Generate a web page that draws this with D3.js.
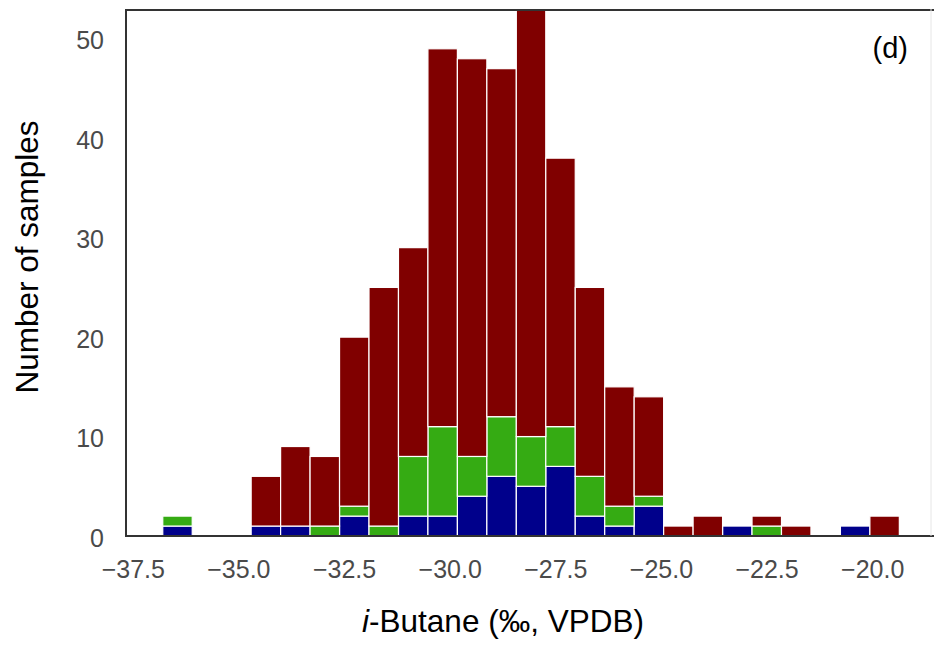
<!DOCTYPE html>
<html>
<head>
<meta charset="utf-8">
<script src="https://cdn.jsdelivr.net/npm/d3@7"></script>
<style>
  html, body { margin: 0; padding: 0; background: #fff; }
  svg { display: block; font-family: "Liberation Sans", Arial, sans-serif; }
</style>
</head>
<body>
<svg id="chart" width="934" height="646"></svg>
<script>
// Histogram bins of i-butane δ13C (‰, VPDB): 25 equal bins
const binStart = -36.79;
const binWidth = 0.6973;
const binCount = 25;

// Counts per bin for each stacked group (bottom to top)
const blueCounts  = [1, 0, 0, 1, 1, 0, 2, 0, 2, 2, 4, 6, 5, 7, 2, 1, 3, 0, 0, 1, 0, 0, 0, 1, 0];
const greenCounts = [1, 0, 0, 0, 0, 1, 1, 1, 6, 9, 4, 6, 5, 4, 4, 2, 1, 0, 0, 0, 1, 0, 0, 0, 0];
const redCounts   = [0, 0, 0, 5, 8, 7, 17, 24, 21, 38, 40, 35, 44, 27, 19, 12, 10, 1, 2, 0, 1, 1, 0, 0, 2];

const seriesKeys = ["blue", "green", "red"];
const seriesColors = { blue: "#00008b", green: "#35ab13", red: "#800000" };

const xTicks = [-37.5, -35.0, -32.5, -30.0, -27.5, -25.0, -22.5, -20.0];
const yTicks = [0, 10, 20, 30, 40, 50];

const xDomain = [-37.66, -18.49];
const yDomain = [0, 53];

const svg = d3.select("#chart");
const plot = { left: 126, right: 936, top: 9, bottom: 536 };

const x = d3.scaleLinear().domain(xDomain).range([plot.left, plot.right]);
const y = d3.scaleLinear().domain(yDomain).range([plot.bottom, plot.top]);

const rows = d3.range(binCount).map(i => ({
  x0: binStart + i * binWidth,
  x1: binStart + (i + 1) * binWidth,
  blue: blueCounts[i],
  green: greenCounts[i],
  red: redCounts[i]
}));

const stacked = d3.stack().keys(seriesKeys)(rows);

svg.append("defs").append("clipPath").attr("id", "plot-clip")
  .append("rect")
  .attr("x", plot.left).attr("y", plot.top)
  .attr("width", plot.right - plot.left).attr("height", plot.bottom - plot.top);

const bars = svg.append("g").attr("clip-path", "url(#plot-clip)");

stacked.forEach(layer => {
  bars.append("g")
    .attr("fill", seriesColors[layer.key])
    .selectAll("rect")
    .data(layer.filter(d => d[1] - d[0] > 0))
    .join("rect")
    .attr("x", d => x(d.data.x0))
    .attr("width", d => x(d.data.x1) - x(d.data.x0))
    .attr("y", d => y(d[1]))
    .attr("height", d => y(d[0]) - y(d[1]))
    .attr("stroke", "#ffffff")
    .attr("stroke-width", 1.2);
});

// Frame (right spine falls at the edge of the canvas)
const spine = "#333333";
svg.append("line").attr("x1", plot.left).attr("x2", plot.left)
  .attr("y1", plot.top).attr("y2", plot.bottom)
  .attr("stroke", spine).attr("stroke-width", 2);
svg.append("line").attr("x1", plot.left - 1).attr("x2", 934)
  .attr("y1", plot.bottom).attr("y2", plot.bottom)
  .attr("stroke", spine).attr("stroke-width", 2);
svg.append("line").attr("x1", plot.left - 1).attr("x2", 934)
  .attr("y1", plot.top + 1).attr("y2", plot.top + 1)
  .attr("stroke", spine).attr("stroke-width", 2);
svg.append("line").attr("x1", 931).attr("x2", 931)
  .attr("y1", plot.top).attr("y2", plot.bottom)
  .attr("stroke", "#e6e6e6").attr("stroke-width", 1);

// Axes: tick labels only, no tick marks
const fmtX = d => d3.format(".1f")(d).replace("-", "\u2212");
const xAxis = d3.axisBottom(x).tickValues(xTicks).tickFormat(fmtX).tickSize(0).tickPadding(24);
const yAxis = d3.axisLeft(y).tickValues(yTicks).tickFormat(d3.format("d")).tickSize(0).tickPadding(22);

const gx = svg.append("g").attr("transform", `translate(0,${plot.bottom})`).call(xAxis);
const gy = svg.append("g").attr("transform", `translate(${plot.left},0)`).call(yAxis);
[gx, gy].forEach(g => {
  g.select(".domain").remove();
  g.selectAll("text")
    .attr("fill", "#4a4a4a")
    .style("font-size", "25px")
    .style("font-family", "'Liberation Sans', Arial, sans-serif");
});
gy.selectAll("text").attr("dy", "0.4em");

// Axis titles
const xTitle = svg.append("text")
  .attr("x", 503).attr("y", 632)
  .attr("text-anchor", "middle")
  .attr("fill", "#000")
  .style("font-size", "31.5px");
xTitle.append("tspan").style("font-style", "italic").text("i");
xTitle.append("tspan").text("-Butane (\u2030, VPDB)");

svg.append("text")
  .attr("transform", "translate(38,257) rotate(-90)")
  .attr("text-anchor", "middle")
  .attr("fill", "#000")
  .style("font-size", "31.5px")
  .text("Number of samples");

// Panel tag
svg.append("text")
  .attr("x", 908).attr("y", 58)
  .attr("text-anchor", "end")
  .attr("fill", "#000")
  .style("font-size", "29px")
  .text("(d)");
</script>
</body>
</html>
